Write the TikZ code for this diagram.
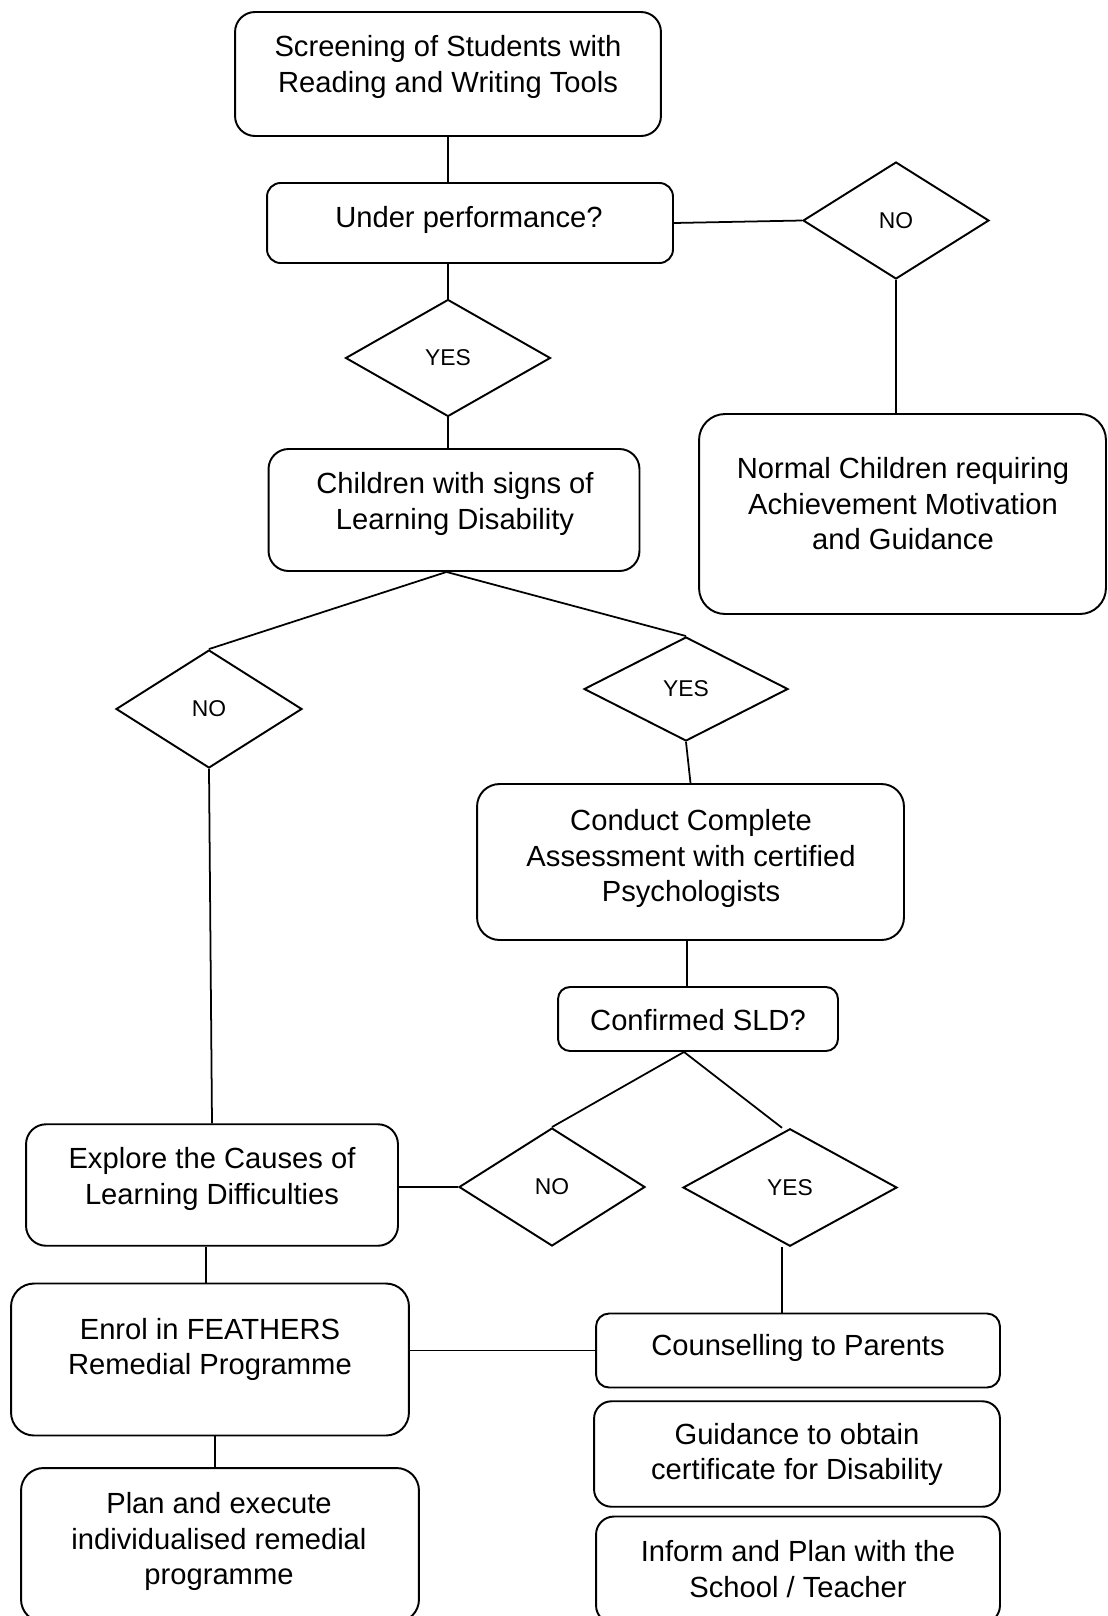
\documentclass[tikz,border=0pt]{standalone}
\usepackage{fontspec}
\setmainfont{Liberation Sans}
\usetikzlibrary{shapes.geometric}

\begin{document}
\begin{tikzpicture}[x=0.02cm,y=-0.02cm,
    flowbox/.style={draw, line width=1.1pt, rounded corners=#1},
    flowbox/.default=0.4cm,
    decide/.style={draw, diamond, line width=1.1pt, inner sep=0pt, font=\fontsize{13}{15.6}\selectfont},
    words/.style={align=center, inner sep=0pt, font=\fontsize{16.6}{20.2}\selectfont},
    link/.style={line width=1pt}]
   \useasboundingbox (0,0) rectangle (1107,1616);
   \clip (0,0) rectangle (1107,1616);
   \begin{scope}
    \node[flowbox=0.4cm, minimum width=8.52cm, minimum height=2.48cm] (screen) at (448,74) {};
    \node[words] (t-screen) at (448,67) {Screening of Students with\\Reading and Writing Tools};
    \node[flowbox=0.27cm, minimum width=8.12cm, minimum height=1.6cm] (under) at (470,223) {};
    \node[words] (t-under) at (469,220) {Under performance?};
    \node[decide, minimum width=3.72cm, minimum height=2.34cm] (noA) at (896,220.5) {NO};
    \node[flowbox=0.52cm, minimum width=8.14cm, minimum height=4cm] (normal) at (902.5,514) {};
    \node[words] (t-normal) at (903,504) {Normal Children requiring\\Achievement Motivation\\and Guidance};
    \node[decide, minimum width=4.1cm, minimum height=2.34cm] (yesA) at (448,358) {YES};
    \node[flowbox=0.4cm, minimum width=7.42cm, minimum height=2.44cm] (child) at (454,510) {};
    \node[words] (t-child) at (455,504) {Children with signs of\\Learning Disability};
   \end{scope}
   \begin{scope}
    \node[decide, minimum width=3.72cm, minimum height=2.36cm] (noB) at (209,709) {NO};
    \node[decide, minimum width=4.08cm, minimum height=2.08cm] (yesB) at (686,689) {YES};
    \node[flowbox=0.45cm, minimum width=8.54cm, minimum height=3.12cm] (conduct) at (690.5,862) {};
    \node[words] (t-conduct) at (691,858.5) {Conduct Complete\\Assessment with certified\\Psychologists};
    \node[flowbox=0.24cm, minimum width=5.6cm, minimum height=1.28cm] (sld) at (698,1019) {};
    \node[words] (t-sld) at (698,1020) {Confirmed SLD?};
    \node[decide, minimum width=3.72cm, minimum height=2.36cm] (noC) at (552,1187) {NO};
    \node[decide, minimum width=4.28cm, minimum height=2.35cm] (yesC) at (790,1187.5) {YES};
   \end{scope}
   \begin{scope}
    \node[flowbox=0.4cm, minimum width=7.44cm, minimum height=2.43cm] (explore) at (212,1185) {};
    \node[words] (t-explore) at (212,1179) {Explore the Causes of\\Learning Difficulties};
    \node[flowbox=0.46cm, minimum width=7.96cm, minimum height=3.04cm] (enrol) at (210,1359.5) {};
    \node[words] (t-enrol) at (210,1349.5) {Enrol in FEATHERS\\Remedial Programme};
    \node[flowbox=0.45cm, minimum width=7.96cm, minimum height=3.08cm] (plan) at (220,1545) {};
    \node[words] (t-plan) at (219,1541.5) {Plan and execute\\individualised remedial\\programme};
    \node[flowbox=0.26cm, minimum width=8.08cm, minimum height=1.48cm] (counsel) at (798,1350.5) {};
    \node[words] (t-counsel) at (798,1347.5) {Counselling to Parents};
    \node[flowbox=0.35cm, minimum width=8.12cm, minimum height=2.11cm] (guide) at (797,1454) {};
    \node[words] (t-guide) at (797,1454.5) {Guidance to obtain\\certificate for Disability};
    \node[flowbox=0.36cm, minimum width=8.08cm, minimum height=2.14cm] (inform) at (798,1570) {};
    \node[words] (t-inform) at (798,1569) {Inform and Plan with the\\School / Teacher};
   \end{scope}
    \draw[link] (screen.south) -- (screen.south |- under.north);
    \draw[link] (under.east) -- (noA.west);
    \draw[link] (noA.south) -- (noA.south |- normal.north);
    \draw[link] (yesA.north |- under.south) -- (yesA.north);
    \draw[link] (yesA.south) -- (yesA.south |- child.north);
    \draw[link] ([xshift=-0.15cm]child.south) -- (noB.north);
    \draw[link] ([xshift=-0.15cm]child.south) -- (yesB.north);
    \draw[link] (noB.south) -- (explore.north);
    \draw[link] (yesB.south) -- (conduct.north);
    \draw[link] ([xshift=-0.07cm]conduct.south) -- ([xshift=-0.07cm]conduct.south |- sld.north);
    \draw[link] ([xshift=-0.28cm]sld.south) -- (noC.north);
    \draw[link] ([xshift=-0.28cm]sld.south) -- ([xshift=-0.16cm]yesC.north);
    \draw[link] (explore.east |- noC.west) -- (noC.west);
    \draw[link] ([xshift=-0.12cm]explore.south) -- ([xshift=-0.12cm]explore.south |- enrol.north);
    \draw[link] (enrol.east |- counsel.west) -- (counsel.west);
    \draw[link] ([xshift=0.1cm]enrol.south) -- ([xshift=0.1cm]enrol.south |- plan.north);
    \draw[link] ([xshift=-0.16cm]yesC.south) -- ([xshift=-0.16cm]yesC.south |- counsel.north);
\end{tikzpicture}
\end{document}
